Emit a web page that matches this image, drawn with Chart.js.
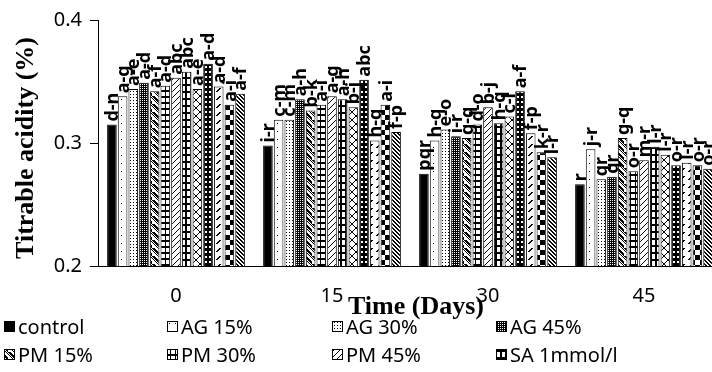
<!DOCTYPE html>
<html>
<head>
<meta charset="utf-8">
<script src="https://cdn.jsdelivr.net/npm/chart.js@4/dist/chart.umd.min.js"></script>
<style>
  html, body { margin: 0; padding: 0; background: #fff; overflow: hidden; }
  #wrap { width: 740px; height: 372px; position: relative; }
</style>
</head>
<body>
<div id="wrap"><canvas id="c" width="740" height="372"></canvas></div>
<script>
// ---- data ----
const categories = ['0', '15', '30', '45'];
const seriesNames = ['control', 'AG 15%', 'AG 30%', 'AG 45%', 'PM 15%', 'PM 30%', 'PM 45%', 'SA 1mmol/l',
                     'Series 9', 'Series 10', 'Series 11', 'Series 12', 'Series 13'];
const control = [0.315, 0.298, 0.275, 0.2665];
const ag15    = [0.338, 0.319, 0.302, 0.295];
const ag30    = [0.344, 0.319, 0.311, 0.2705];
const ag45    = [0.349, 0.3355, 0.3055, 0.2725];
const pm15    = [0.342, 0.3265, 0.304, 0.304];
const pm30    = [0.3465, 0.331, 0.315, 0.277];
const pm45    = [0.353, 0.338, 0.329, 0.286];
const sa1     = [0.358, 0.3355, 0.316, 0.297];
const s9      = [0.344, 0.329, 0.3215, 0.2905];
const s10     = [0.3645, 0.3515, 0.342, 0.282];
const s11     = [0.346, 0.302, 0.308, 0.284];
const s12     = [0.331, 0.331, 0.2925, 0.282];
const s13     = [0.340, 0.309, 0.2885, 0.279];
const allValues = [control, ag15, ag30, ag45, pm15, pm30, pm45, sa1, s9, s10, s11, s12, s13];

// significance letters, one array per series (per time point)
const letControl = ['d-n', 'i-r', 'pqr', 'r'];
const letAg15    = ['a-g', 'c-m', 'h-q', 'j-r'];
const letAg30    = ['a-e', 'c-m', 'e-o', 'qr'];
const letAg45    = ['a-d', 'a-h', 'i-r', 'qr'];
const letPm15    = ['a-f', 'b-k', 'g-q', 'g-q'];
const letPm30    = ['a-d', 'a-i', 'd-o', 'o-r'];
const letPm45    = ['abc', 'a-g', 'b-j', 'm-r'];
const letSa1     = ['abc', 'a-h', 'h-q', 'l-r'];
const let9       = ['a-e', 'b-j', 'c-l', 'l-r'];
const let10      = ['a-d', 'abc', 'a-f', 'o-r'];
const let11      = ['a-d', 'h-q', 'f-p', 'l-r'];
const let12      = ['a-i', 'a-i', 'k-r', 'o-r'];
const let13      = ['a-f', 'f-p', 'l-r', 'o-r'];
const allLetters = [letControl, letAg15, letAg30, letAg45, letPm15, letPm30, letPm45, letSa1, let9, let10, let11, let12, let13];

const yTicks = [0.2, 0.3, 0.4];
const yTitle = 'Titrable acidity (%)';
const xTitle = 'Time (Days)';
const legendCount = 8;

// ---- patterns ----
function tile(w, h, draw) {
  const c = document.createElement('canvas');
  c.width = w; c.height = h;
  const g = c.getContext('2d');
  draw(g, w, h);
  return document.getElementById('c').getContext('2d').createPattern(c, 'repeat');
}
const patterns = [
  '#000000',
  tile(6, 8, (g) => { g.fillStyle = '#fff'; g.fillRect(0, 0, 6, 8); g.fillStyle = '#000'; g.fillRect(1, 3, 1, 1); }),
  tile(3, 3, (g) => { g.fillStyle = '#fff'; g.fillRect(0, 0, 3, 3); g.fillStyle = '#000'; g.fillRect(1, 1, 1, 1); }),
  tile(2, 2, (g) => { g.fillStyle = '#000'; g.fillRect(0, 0, 2, 2); g.fillStyle = '#fff'; g.fillRect(0, 0, 1, 1); }),
  tile(8, 8, (g) => { g.fillStyle = '#fff'; g.fillRect(0, 0, 8, 8); g.fillStyle = '#000';
    for (let i = 0; i < 8; i++) { g.fillRect(i, i, 3, 1); g.fillRect((i + 6) % 8, i, 1, 1); } }),
  tile(5, 6, (g) => { g.fillStyle = '#fff'; g.fillRect(0, 0, 5, 6); g.fillStyle = '#000'; g.fillRect(0, 0, 5, 2); g.fillRect(0, 0, 1, 6); }),
  tile(6, 6, (g) => { g.fillStyle = '#fff'; g.fillRect(0, 0, 6, 6); g.fillStyle = '#000';
    for (let i = 0; i < 6; i++) { g.fillRect(5 - i, i, 1, 1); } }),
  tile(5, 7, (g) => { g.fillStyle = '#fff'; g.fillRect(0, 0, 5, 7); g.fillStyle = '#000'; g.fillRect(0, 0, 5, 2); g.fillRect(0, 0, 2, 7); }),
  tile(8, 8, (g) => { g.fillStyle = '#fff'; g.fillRect(0, 0, 8, 8); g.fillStyle = '#000';
    for (let i = 0; i < 8; i++) { g.fillRect(i, i, 1, 1); g.fillRect(7 - i, i, 1, 1); } }),
  tile(4, 5, (g) => { g.fillStyle = '#000'; g.fillRect(0, 0, 4, 5); g.fillStyle = '#fff'; g.fillRect(1, 1, 2, 2); }),
  tile(8, 8, (g) => { g.fillStyle = '#fff'; g.fillRect(0, 0, 8, 8); g.fillStyle = '#000';
    for (let i = 0; i < 4; i++) { g.fillRect(3 - i, i, 2, 1); } }),
  tile(10, 10, (g) => { g.fillStyle = '#fff'; g.fillRect(0, 0, 10, 10); g.fillStyle = '#000'; g.fillRect(0, 0, 5, 5); g.fillRect(5, 5, 5, 5); }),
  tile(4, 4, (g) => { g.fillStyle = '#fff'; g.fillRect(0, 0, 4, 4); g.fillStyle = '#000';
    g.fillRect(0, 0, 2, 1); g.fillRect(1, 1, 2, 1); g.fillRect(2, 2, 2, 1); g.fillRect(3, 3, 1, 1); g.fillRect(0, 3, 1, 1); })
];

const datasets = allValues.map((vals, i) => ({
  label: seriesNames[i],
  data: vals,
  letters: allLetters[i],
  backgroundColor: patterns[i],
  borderColor: '#000',
  borderWidth: 1,
  categoryPercentage: 0.89,
  barPercentage: 0.9
}));

// ---- plugins: letters, titles, legend ----
const extras = {
  id: 'extras',
  afterDatasetsDraw(chart) {
    const ctx = chart.ctx;
    ctx.save();
    ctx.fillStyle = '#000';
    ctx.font = 'bold 18px "Noto Sans"';
    ctx.textAlign = 'left';
    ctx.textBaseline = 'middle';
    chart.data.datasets.forEach((ds, di) => {
      const meta = chart.getDatasetMeta(di);
      meta.data.forEach((el, j) => {
        ctx.save();
        ctx.translate(el.x + 1, el.y - 3);
        ctx.rotate(-Math.PI / 2);
        ctx.fillText(ds.letters[j], 0, 0);
        ctx.restore();
      });
    });
    ctx.restore();
  },
  afterDraw(chart) {
    const ctx = chart.ctx;
    ctx.save();
    ctx.fillStyle = '#000';
    // y title
    ctx.font = 'bold 26px "Liberation Serif"';
    ctx.textAlign = 'center';
    ctx.textBaseline = 'middle';
    ctx.save();
    ctx.translate(26, 148);
    ctx.rotate(-Math.PI / 2);
    ctx.fillText(yTitle, 0, 0);
    ctx.restore();
    // x title
    ctx.textBaseline = 'alphabetic';
    ctx.fillText(xTitle, 416, 314);
    // legend
    ctx.font = '20px "Noto Sans"';
    ctx.textAlign = 'left';
    ctx.textBaseline = 'middle';
    const cols = [4, 167, 332, 496];
    const rows = [327, 355];
    for (let i = 0; i < legendCount; i++) {
      const x = cols[i % 4], y = rows[Math.floor(i / 4)];
      ctx.fillStyle = chart.data.datasets[i].backgroundColor;
      ctx.fillRect(x, y - 6, 11, 11);
      ctx.strokeStyle = '#000';
      ctx.lineWidth = 1;
      ctx.strokeRect(x + 0.5, y - 5.5, 10, 10);
      ctx.fillStyle = '#000';
      ctx.fillText(chart.data.datasets[i].label, x + 14, y + 1);
    }
    ctx.restore();
  }
};

new Chart(document.getElementById('c'), {
  type: 'bar',
  data: { labels: categories, datasets },
  options: {
    responsive: false,
    animation: false,
    layout: { padding: { left: 0, right: 18, top: 17, bottom: 56 } },
    plugins: { legend: { display: false }, tooltip: { enabled: false } },
    scales: {
      x: {
        grid: { display: false, drawTicks: false },
        border: { display: true, color: '#000', width: 1 },
        ticks: { color: '#000', font: { family: 'Noto Sans', size: 20 }, padding: 18, maxRotation: 0 },
        afterFit: (s) => { s.height = 50; }
      },
      y: {
        min: 0.2, max: 0.4,
        afterBuildTicks: (s) => { s.ticks = yTicks.map(v => ({ value: v })); },
        grid: { display: true, drawOnChartArea: false, drawTicks: true, tickLength: 8, color: '#000' },
        border: { display: true, color: '#000', width: 1 },
        ticks: { color: '#000', font: { family: 'Noto Sans', size: 20 }, padding: 8,
                 callback: (v) => v.toFixed(1) },
        afterFit: (s) => { s.width = 98; }
      }
    }
  },
  plugins: [extras]
});
</script>
</body>
</html>
